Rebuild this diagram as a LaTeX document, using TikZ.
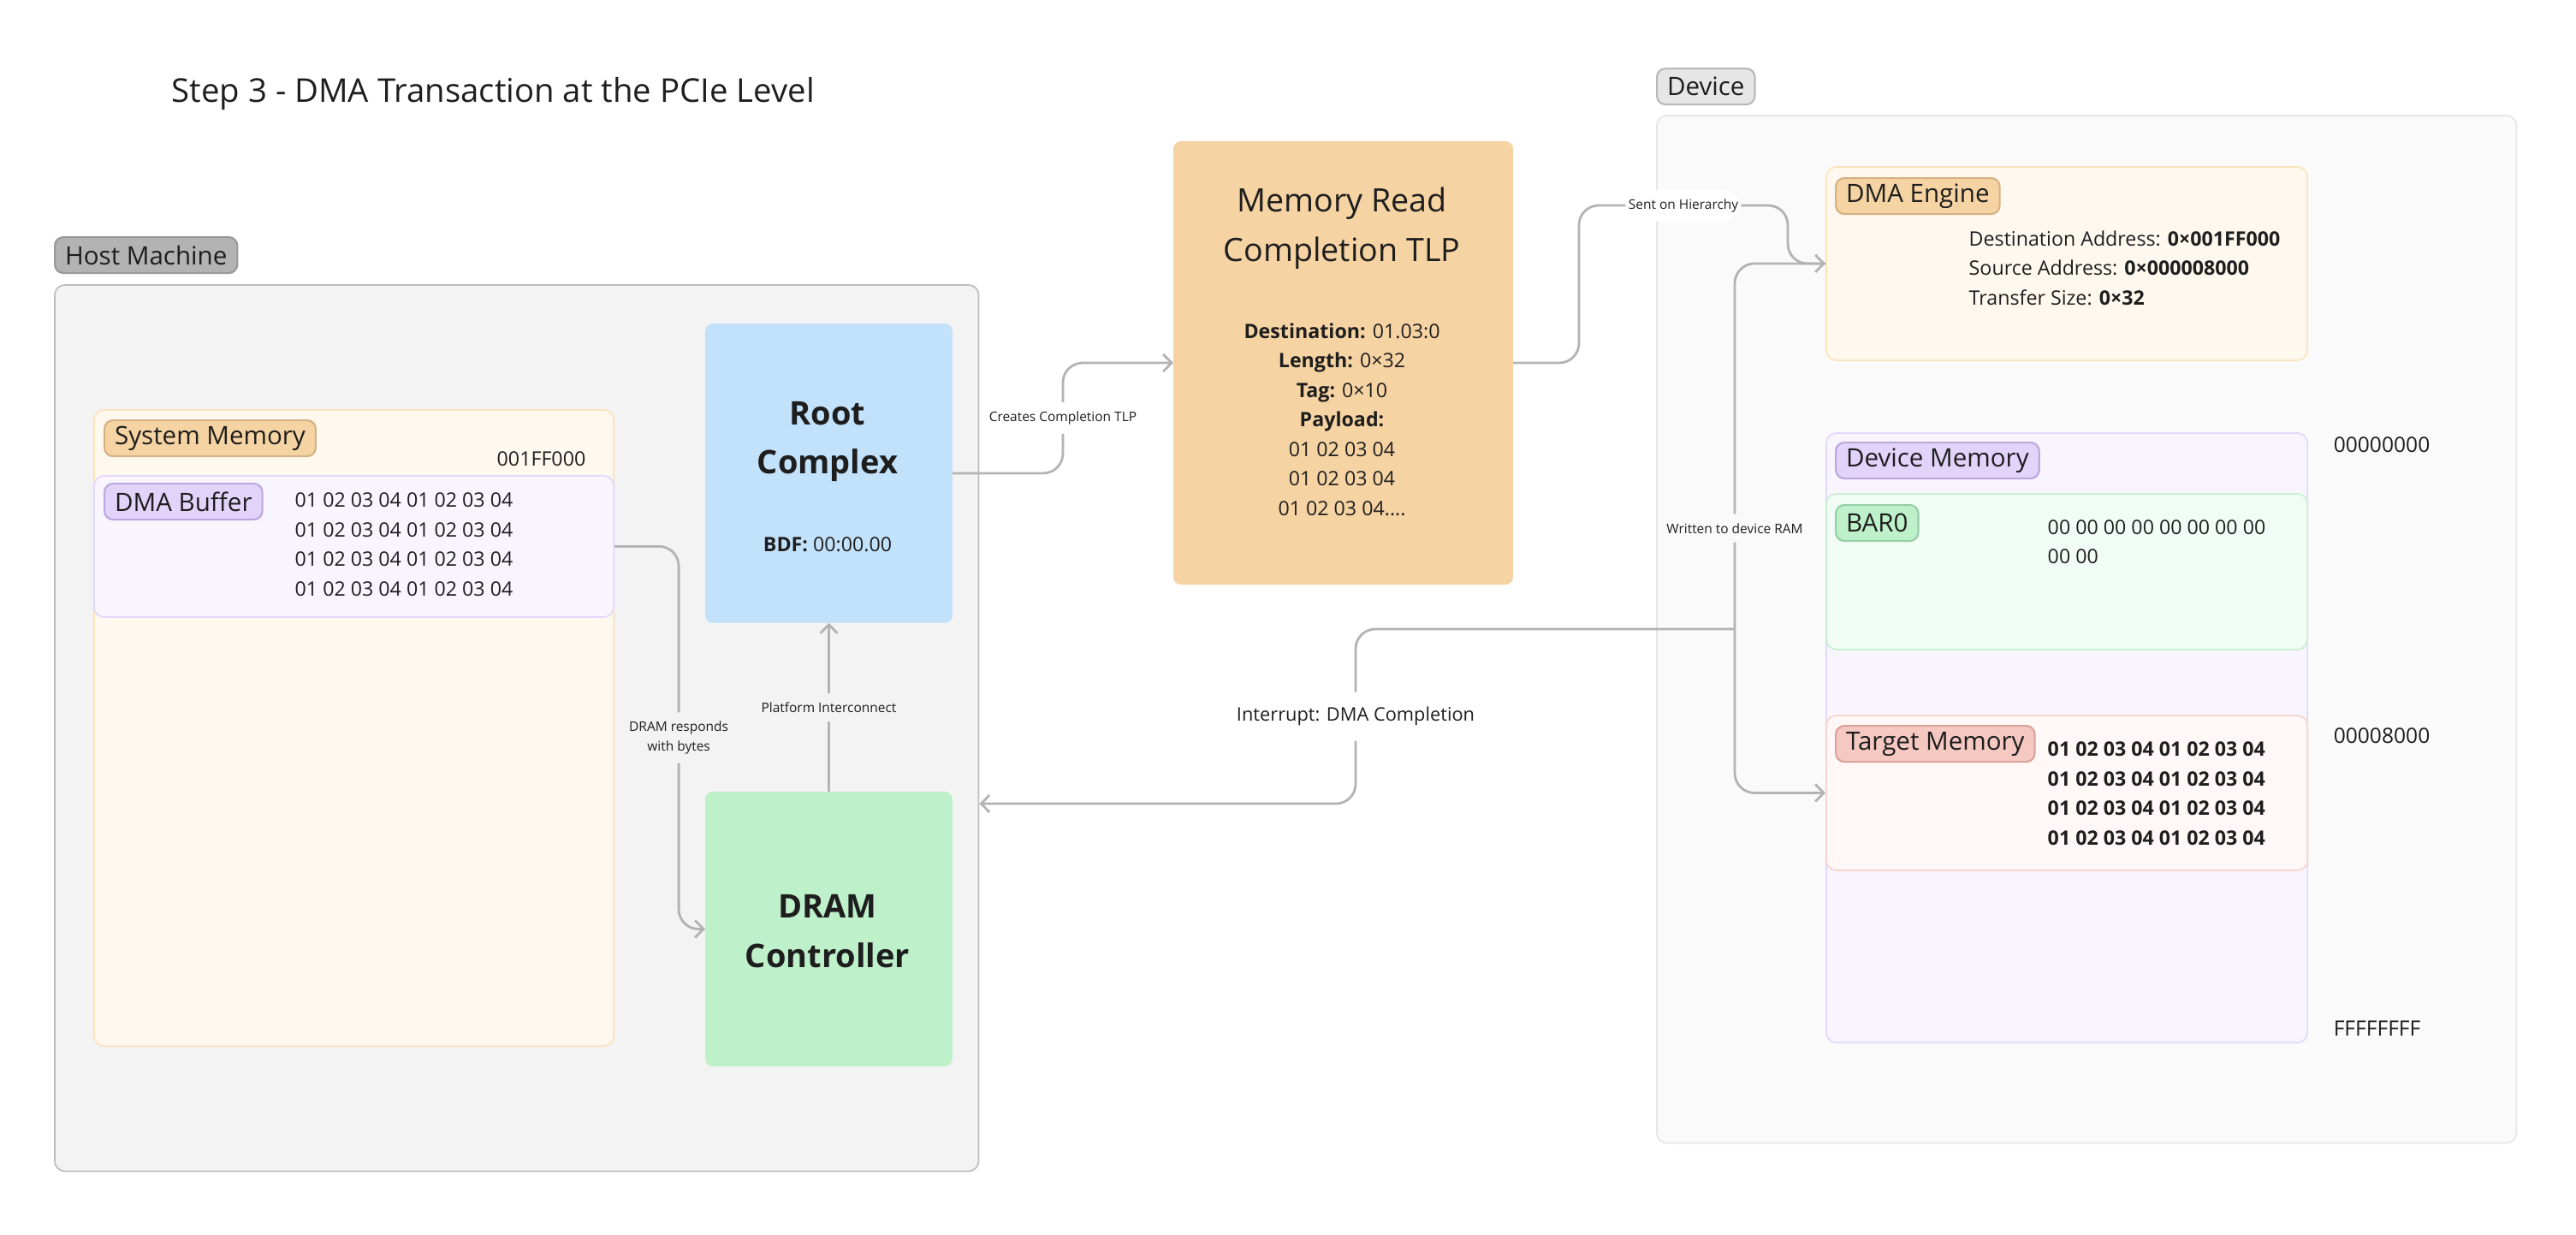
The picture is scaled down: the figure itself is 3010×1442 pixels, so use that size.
\documentclass[tikz,border=0pt]{standalone}
\usepackage{fontspec}
\setmainfont{Open Sans}
\usetikzlibrary{arrows.meta,positioning}

\definecolor{ink}{HTML}{1E1E1E}
\definecolor{wire}{HTML}{B3B3B3}
\definecolor{hostfill}{HTML}{F3F3F3}
\definecolor{hostline}{HTML}{BDBDBD}
\definecolor{hosttag}{HTML}{B3B3B3}
\definecolor{hosttagline}{HTML}{999999}
\definecolor{devfill}{HTML}{FAFAFA}
\definecolor{devline}{HTML}{E6E6E6}
\definecolor{devtag}{HTML}{E6E6E6}
\definecolor{devtagline}{HTML}{B8B8B8}
\definecolor{cream}{HTML}{FEF8EF}
\definecolor{creamline}{HTML}{FBE3BE}
\definecolor{peach}{HTML}{F5D3A3}
\definecolor{peachline}{HTML}{D6B184}
\definecolor{lilac}{HTML}{F8F5FE}
\definecolor{lilacline}{HTML}{E2D8FB}
\definecolor{lilactag}{HTML}{E2D3FA}
\definecolor{lilactagline}{HTML}{BBA7DE}
\definecolor{sky}{HTML}{C2E1FA}
\definecolor{mint}{HTML}{BEF1CA}
\definecolor{mintpanel}{HTML}{F1FDF4}
\definecolor{mintline}{HTML}{C9EFD3}
\definecolor{minttagline}{HTML}{95CFA5}
\definecolor{rose}{HTML}{FFF8F6}
\definecolor{roseline}{HTML}{F6D5D1}
\definecolor{rosetag}{HTML}{F5C8C2}
\definecolor{rosetagline}{HTML}{D9A29C}

\tikzset{
	conn/.style={draw=wire, line width=0.8pt, rounded corners=0.23cm,
		-{Straight Barb[length=2.8pt,width=5.7pt]}},
	lbl/.style={fill=white, text=ink, font=\fontsize{4.4}{6.5}\selectfont,
		align=center, inner xsep=1pt, inner ysep=3pt},
	panel/.style 2 args={draw=#2, fill=#1, rounded corners=0.12cm,
		line width=0.5pt, anchor=north west, inner sep=0pt},
	tag/.style 2 args={draw=#2, fill=#1, rounded corners=0.1cm, line width=0.6pt,
		anchor=north west, inner xsep=0.12cm, inner ysep=0pt, minimum height=0.42cm,
		text=ink, font=\fontsize{8.4}{10}\selectfont},
	body/.style={text=ink, inner sep=0pt, align=left, font=\fontsize{6.6}{9.8}\selectfont},
	addr/.style={text=ink, inner sep=0pt, anchor=west, font=\fontsize{7}{9}\selectfont},
}

\begin{document}
\begin{tikzpicture}[x=0.01cm, y=-0.01cm]
	\useasboundingbox (0,0) rectangle (3010,1442);

	\node[text=ink, anchor=west, inner sep=0pt, font=\fontsize{10.9}{13}\selectfont] (title) at (200,110) {Step 3 - DMA Transaction at the PCIe Level};

	% host side
	\node[panel={hostfill}{hostline}, minimum width=10.79cm, minimum height=10.35cm] (host) at (63,332) {};
	\node[tag={hosttag}{hosttagline}] (hostlbl) at (63,276) {Host Machine};

	\node[panel={cream}{creamline}, minimum width=6.07cm, minimum height=7.43cm] (sysmem) at (109,478) {};
	\node[tag={peach}{peachline}] (sysmemlbl) at (121,490) {System Memory};
	\node[body, anchor=west] (sysaddr) at (580,536) {001FF000};

	\node[panel={lilac}{lilacline}, minimum width=6.07cm, minimum height=1.65cm] (dmabuf) at (109,555) {};
	\node[tag={lilactag}{lilactagline}] (dmabuflbl) at (121,564) {DMA Buffer};
	\node[body, anchor=west] (bufdata) at (344,636) {01 02 03 04 01 02 03 04\\01 02 03 04 01 02 03 04\\01 02 03 04 01 02 03 04\\01 02 03 04 01 02 03 04};

	\node[panel={sky}{sky}, rounded corners=0.08cm, minimum width=2.87cm, minimum height=3.48cm] (root) at (824,378) {};
	\node[text=ink, align=center, inner sep=0pt, font=\fontsize{10.8}{16.3}\selectfont\bfseries] (roottxt) at (967,516) {Root\\Complex};
	\node[body] (bdf) at (967,636) {\textbf{BDF:} 00:00.00};

	\node[panel={mint}{mint}, rounded corners=0.08cm, minimum width=2.87cm, minimum height=3.19cm] (dram) at (824,925) {};
	\node[text=ink, align=center, inner sep=0pt, font=\fontsize{10.8}{16.3}\selectfont\bfseries] (dramtxt) at (967,1088) {DRAM\\Controller};

	% the TLP
	\node[panel={peach}{peach}, rounded corners=0.08cm, minimum width=3.95cm, minimum height=5.16cm] (tlp) at (1371,165) {};
	\node[text=ink, align=center, inner sep=0pt, font=\fontsize{10.7}{16.5}\selectfont] (tlptitle) at (1568,267) {Memory Read\\Completion TLP};
	\node[body, align=center] (tlpdata) at (1568,490) {\textbf{Destination:} 01.03:0\\\textbf{Length:} 0×32\\\textbf{Tag:} 0×10\\\textbf{Payload:}\\01 02 03 04\\01 02 03 04\\01 02 03 04....};

	% device side
	\node[panel={devfill}{devline}, minimum width=10.04cm, minimum height=12cm] (device) at (1935,134) {};
	\node[tag={devtag}{devtagline}] (devicelbl) at (1935,79) {Device};

	\node[panel={cream}{creamline}, minimum width=5.62cm, minimum height=2.26cm] (engine) at (2133,194) {};
	\node[tag={peach}{peachline}] (enginelbl) at (2144,207) {DMA Engine};
	\node[body, anchor=west] (enginetxt) at (2300,313) {Destination Address: \textbf{0×001FF000}\\Source Address: \textbf{0×000008000}\\Transfer Size: \textbf{0×32}};

	\node[panel={lilac}{lilacline}, minimum width=5.62cm, minimum height=7.12cm] (devmem) at (2133,505) {};
	\node[tag={lilactag}{lilactagline}] (devmemlbl) at (2144,516) {Device Memory};

	\node[panel={mintpanel}{mintline}, minimum width=5.62cm, minimum height=1.82cm] (bar) at (2133,576) {};
	\node[tag={mint}{minttagline}] (barlbl) at (2144,589) {BAR0};
	\node[body, anchor=west] (bartxt) at (2392,633) {00 00 00 00 00 00 00 00\\00 00};

	\node[panel={rose}{roseline}, minimum width=5.62cm, minimum height=1.81cm] (target) at (2133,835) {};
	\node[tag={rosetag}{rosetagline}] (targetlbl) at (2144,847) {Target Memory};
	\node[body, anchor=west, font=\fontsize{6.6}{9.8}\selectfont\bfseries] (targettxt) at (2392,927) {01 02 03 04 01 02 03 04\\01 02 03 04 01 02 03 04\\01 02 03 04 01 02 03 04\\01 02 03 04 01 02 03 04};

	\node[addr] (addrlow) at (2726,520) {00000000};
	\node[addr] (addrmid) at (2726,860) {00008000};
	\node[addr] (addrhigh) at (2726,1202) {FFFFFFFF};

	% connectors
	\coordinate (tap) at (2027,735);
	\coordinate (hostin) at (host.east |- 0,939);

	\draw[conn] (dmabuf.east) -- ++(75,0) |- node[lbl, fill=hostfill, pos=0.25] {DRAM responds\\with bytes} (dram.west);
	\draw[conn] (dram.north) -- node[lbl, fill=hostfill] {Platform Interconnect} (root.south);
	\draw[conn] (root.east) -- ++(129,0) |- node[lbl, pos=0.25] {Creates Completion TLP} (tlp.west);
	\draw[conn] (tlp.east) -- ++(77,0) |- node[lbl, pos=0.75] {Sent on Hierarchy} (2089,240) |- (engine.west);
	\draw[conn] (engine.west) -- ++(-106,0) |- node[lbl, fill=devfill, pos=0.25] {Written to device RAM} (target.west);
	\draw[conn] (tap) -| node[lbl, pos=0.75, font=\fontsize{6.2}{8}\selectfont, inner ysep=5pt] {Interrupt: DMA Completion} (1584,939) -- (hostin);
\end{tikzpicture}
\end{document}
